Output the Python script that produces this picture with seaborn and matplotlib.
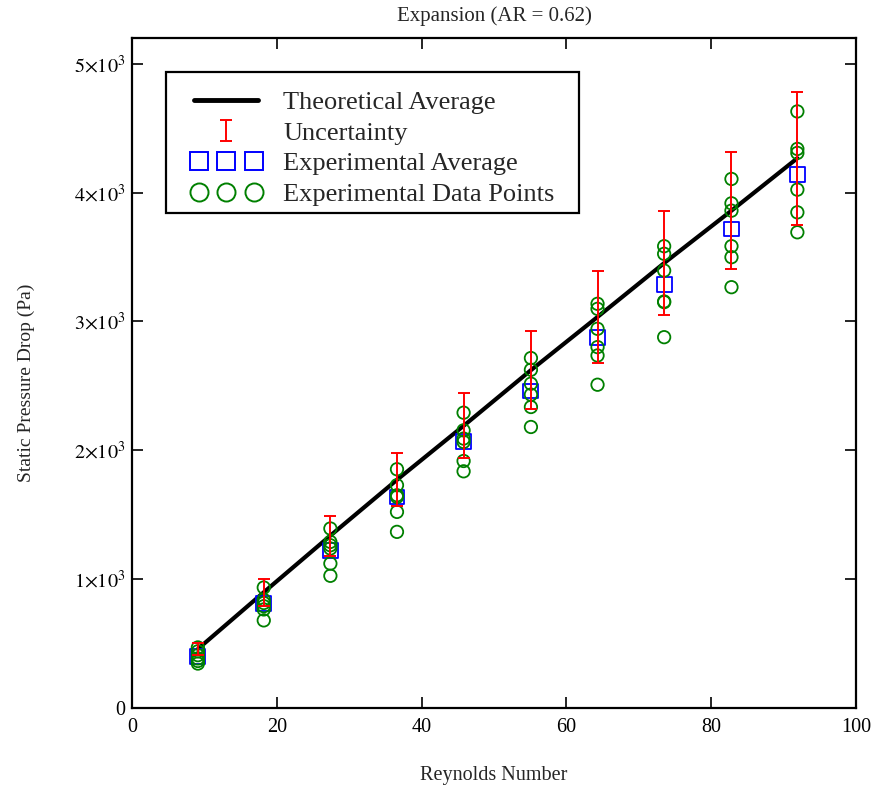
import numpy as np
import pandas as pd
import matplotlib
matplotlib.use("Agg")
import matplotlib.pyplot as plt
import seaborn as sns
from matplotlib.lines import Line2D
from matplotlib.patches import Rectangle
from matplotlib.legend_handler import HandlerErrorbar, HandlerLine2D

# valores
reynolds = [9.1, 18.2, 27.4, 36.6, 45.8, 55.1, 64.3, 73.5, 82.8, 91.9]
teorico = [458, 898, 1338, 1771, 2190, 2622, 3035, 3453, 3860, 4267]
incertidumbre = [50, 103, 156, 205, 253, 303, 355, 404, 452, 516]
promedio_exp = [400, 810, 1225, 1638, 2065, 2460, 2874, 3287, 3718, 4140]
puntos_exp = [
    [470, 440, 410, 385, 365, 345],
    [935, 840, 815, 790, 765, 680],
    [1393, 1289, 1263, 1238, 1121, 1026],
    [1853, 1729, 1651, 1638, 1522, 1367],
    [2292, 2155, 2091, 2065, 1917, 1837],
    [2716, 2625, 2517, 2432, 2336, 2181],
    [3137, 3098, 2943, 2801, 2736, 2509],
    [3584, 3525, 3395, 3155, 3150, 2878],
    [4106, 3917, 3860, 3584, 3499, 3266],
    [4630, 4339, 4308, 4023, 3847, 3692],
]
xticks = [0, 20, 40, 60, 80, 100]
yticks = [0, 1000, 2000, 3000, 4000, 5000]
ytick_labels = ['0', r'$1{\times}10^{3}$', r'$2{\times}10^{3}$', r'$3{\times}10^{3}$',
                r'$4{\times}10^{3}$', r'$5{\times}10^{3}$']

df_puntos = pd.DataFrame({
    'Re': np.repeat(reynolds, [len(p) for p in puntos_exp]),
    'dp': np.concatenate(puntos_exp),
})

sns.set_theme(style='ticks')
plt.rcParams['font.family'] = ['Liberation Serif', 'DejaVu Serif']
plt.rcParams['mathtext.fontset'] = 'stix'

fig = plt.figure(figsize=(8.8, 7.93), dpi=100)
ax = fig.add_axes([132 / 880, 85 / 793, 724 / 880, 670 / 793])

sns.lineplot(x=reynolds, y=teorico, color='black', linewidth=3, ax=ax, zorder=2)
sns.scatterplot(x=reynolds, y=promedio_exp, marker='s', s=115, facecolors='none',
                edgecolor='blue', linewidth=1.3, ax=ax, zorder=3)
sns.scatterplot(data=df_puntos, x='Re', y='dp', marker='o', s=80, facecolors='none',
                edgecolor='green', linewidth=1.3, ax=ax, zorder=4)
eb = ax.errorbar(reynolds, teorico, yerr=incertidumbre, fmt='none', ecolor='red',
                 elinewidth=1.4, capsize=4, capthick=1.4, zorder=5)

ax.set_xlim(0, 100)
ax.set_ylim(0, 5200)
ax.set_xticks(xticks)
ax.set_yticks(yticks, ytick_labels)
ax.tick_params(direction='in', length=8, width=1.2, labelsize=14.5, pad=5,
               top=True, right=True, color='black', labelcolor='black')
ax.tick_params(axis='x', pad=7)
for sp in ax.spines.values():
    sp.set_linewidth(1.6)
    sp.set_color('black')

ax.set_xlabel('Reynolds Number', fontsize=14.5)
ax.set_ylabel('Static Pressure Drop (Pa)', fontsize=14)
ax.xaxis.set_label_coords(0.5, -0.087)
ax.yaxis.set_label_coords(-0.134, 0.485)
fig.text(0.5 * (132 + 856) / 880, 1 - 16 / 793, 'Expansion (AR = 0.62)',
         ha='center', va='center', fontsize=15)

# marco de la leyenda dibujado aparte para ajustar su tamaño
ax.add_patch(Rectangle((0.047, 0.7388), 0.5704, 0.2105, transform=ax.transAxes,
                       facecolor='white', edgecolor='black', linewidth=1.6,
                       zorder=6, clip_on=False))

h_line = Line2D([], [], color='black', linewidth=3.5)
h_sq = Line2D([], [], color='blue', marker='s', linestyle='none', markersize=13,
              markerfacecolor='none', markeredgewidth=1.4)
h_ci = Line2D([], [], color='green', marker='o', linestyle='none', markersize=13,
              markerfacecolor='none', markeredgewidth=1.4)
leg = ax.legend([h_line, eb, h_sq, h_ci],
                ['Theoretical Average', 'Uncertainty', 'Experimental Average',
                 'Experimental Data Points'],
                loc='upper left', bbox_to_anchor=(0.047, 0.949), borderaxespad=0,
                fontsize=19, numpoints=3, handlelength=2.8, handletextpad=0.95,
                labelspacing=0.27, borderpad=0.7, frameon=False,
                handler_map={h_line: HandlerLine2D(numpoints=1, xpad=0.37),
                             eb: HandlerErrorbar(numpoints=1, yerr_size=0.38, xpad=0.37),
                             h_sq: HandlerLine2D(numpoints=3, marker_pad=0.18, xpad=0.37),
                             h_ci: HandlerLine2D(numpoints=3, marker_pad=0.18, xpad=0.37)})
leg.set_zorder(7)

fig.savefig('out.png', dpi=100)
